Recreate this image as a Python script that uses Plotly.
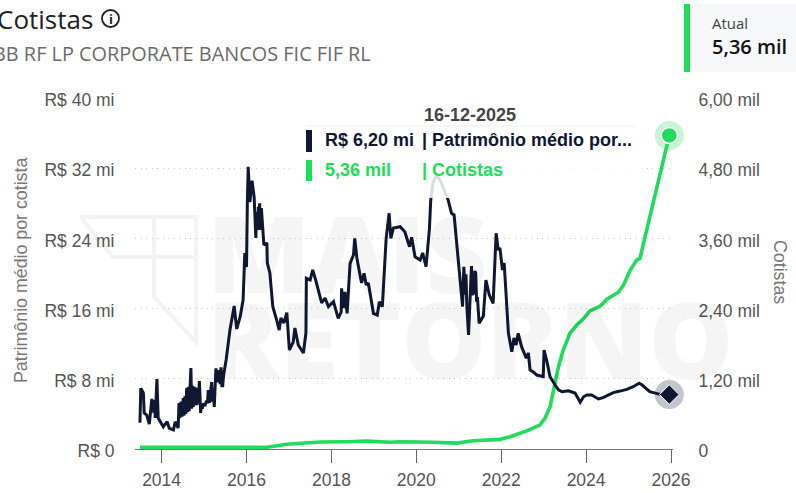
import plotly.graph_objects as go

# ---- data ----
patrimonio_anos = [2013.49,2013.51,2013.57,2013.59,2013.65,2013.71,2013.77,2013.82,2013.84,2013.85,2013.89,2013.92,2014.04,2014.13,2014.18,2014.28,2014.32,2014.39,
2014.41,2014.43,2014.46,2014.48,2014.51,2014.53,2014.55,2014.57,2014.59,2014.61,2014.63,2014.65,2014.67,2014.69,2014.71,2014.73,2014.75,2014.77,2014.79,2014.81,2014.83,2014.85,2014.87,2014.89,2014.92,2014.94,2014.96,2014.98,2015.02,2015.06,2015.08,2015.10,2015.12,2015.14,2015.16,2015.18,2015.20,2015.22,2015.24,2015.26,2015.28,2015.30,2015.32,2015.34,2015.36,2015.38,2015.40,2015.42,2015.44,2015.46,
2015.52,2015.61,2015.71,2015.74,2015.77,2015.85,2015.92,2015.96,2016.00,2016.02,2016.04,2016.08,2016.13,2016.18,2016.22,2016.24,2016.26,2016.28,2016.30,2016.31,2016.33,2016.35,2016.38,2016.41,2016.48,2016.49,2016.55,2016.62,2016.71,2016.77,2016.81,2016.88,2016.95,2017.01,2017.10,2017.14,2017.22,2017.34,2017.40,2017.41,2017.50,2017.56,2017.64,2017.72,2017.77,2017.85,2017.93,2018.05,2018.16,2018.23,2018.24,2018.28,2018.32,2018.37,2018.44,2018.52,2018.55,2018.60,2018.67,2018.71,2018.77,2018.82,2018.87,2018.99,2019.08,2019.13,2019.20,2019.29,2019.36,2019.40,2019.46,2019.62,2019.73,2019.84,2019.89,2019.97,2020.09,2020.15,2020.23,2020.31,2020.34,2020.39,2020.48,2020.58,2020.75,2020.83,2020.89,2020.95,2021.01,2021.09,2021.12,2021.15,2021.17,2021.19,2021.23,2021.30,2021.32,2021.34,2021.36,2021.38,2021.40,2021.42,2021.44,2021.48,2021.58,2021.64,2021.72,2021.81,2021.88,2021.93,2021.97,2022.03,2022.07,2022.13,2022.17,2022.25,2022.30,2022.35,2022.40,2022.48,2022.59,2022.64,2022.68,2022.76,2022.84,2022.99,2023.01,2023.07,2023.15,2023.27,2023.35,2023.43,2023.58,2023.74,2023.86,2023.94,2024.02,2024.13,2024.29,2024.40,2024.49,2024.64,2024.80,2024.96,2025.11,2025.25,2025.32,2025.50,2025.74,2025.96]
patrimonio_mi = [3.0,6.92,6.38,4.10,3.87,2.85,5.70,4.10,5.58,3.53,7.98,3.53,2.54,3.11,2.39,2.17,3.11,2.39,
5.24,3.53,5.4,3.7,5.8,3.8,6.0,4.0,6.95,4.2,7.1,4.3,7.0,9.23,4.6,7.2,4.8,7.1,5.0,7.0,5.0,6.6,5.2,7.75,4.10,5.0,4.6,5.2,4.9,5.5,5.2,6.72,5.3,5.5,6.8,7.64,5.4,6.4,4.79,8.2,9.2,7.6,9.0,7.6,9.0,7.4,9.3,7.2,7.2,8.4,
10.14,13.56,16.30,14.9,13.68,15.04,16.98,22.34,20.74,28.03,32.17,28.15,30.58,28.72,24.05,27.0,25.0,27.61,24.96,28.0,25.0,27.46,25.0,23.25,23.48,21.20,20.06,16.22,14.70,13.56,14.93,14.36,15.53,11.28,12.19,13.79,11.85,10.94,13.22,19.45,19.26,20.40,19.07,17.55,16.64,17.21,16.22,16.79,14.89,15.61,18.31,16.07,17.89,15.46,21.16,22.11,24.01,21.77,19.83,18.92,20.02,18.69,18.92,15.46,15.27,16.79,16.22,24.01,26.86,24.01,25.19,25.33,24.76,23.05,24.13,21.91,21.54,22.34,20.77,25.15,28.38,30.31,31.23,30.43,28.38,26.86,26.67,23.48,20.40,16.22,20.77,17.6,19.9,16.4,12.99,20.85,17.5,20.0,17.6,20.3,20.02,16.8,17.32,14.32,15.16,19.26,17.55,16.60,24.58,22.68,22.91,20.40,21.20,16.64,13.19,11.09,12.65,11.85,13.19,11.66,10.34,10.94,9.00,8.77,8.43,8.24,11.28,10.14,8.24,7.29,6.75,6.53,6.64,6.38,5.32,5.95,6.15,6.15,5.70,5.85,6.04,6.42,6.60,6.80,7.10,7.49,7.29,6.53,6.23,6.20]

cotistas_anos = [2013.49,2016.48,2016.95,2017.73,2018.36,2018.83,2019.38,2019.62,2020.39,2020.95,2021.34,2021.97,2022.21,2022.60,2022.91,2023.03,2023.15,2023.24,2023.35,2023.46,2023.62,2023.78,2023.93,2024.09,2024.33,2024.49,2024.76,2024.88,2025.04,2025.19,2025.27,2025.39,2025.55,2025.70,2025.84,2025.96]
cotistas_mil = [0.03,0.03,0.08,0.12,0.125,0.135,0.115,0.125,0.115,0.10,0.14,0.165,0.21,0.31,0.41,0.525,0.72,1.01,1.41,1.69,1.98,2.12,2.22,2.36,2.44,2.56,2.68,2.80,3.06,3.23,3.26,3.63,4.11,4.60,4.97,5.36]

anos_ticks = [2014,2016,2018,2020,2022,2024,2026]
esq_vals = [0,8,16,24,32,40]
esq_txt = ["R$ 0","R$ 8 mi","R$ 16 mi","R$ 24 mi","R$ 32 mi","R$ 40 mi"]
dir_vals = [0,1.2,2.4,3.6,4.8,6.0]
dir_txt = ["0","1,20 mil","2,40 mil","3,60 mil","4,80 mil","6,00 mil"]

# ---- layout frame ----
W, H = 796, 493
L, R, T, B = 135, 673, 98, 449
X0 = 2014 - (161.6 - L) / 42.45
X1 = 2014 + (R - 161.6) / 42.45
px = lambda p: (p - L) / (R - L)
py = lambda p: (B - p) / (B - T)

AZUL = "#0f1733"
VERDE = "#1fdc5a"
ARIAL = "Liberation Sans"
OPEN = "Open Sans"

fig = go.Figure()
fig.add_trace(go.Scatter(x=cotistas_anos, y=cotistas_mil, yaxis="y2", mode="lines",
                         line=dict(color=VERDE, width=3.6), hoverinfo="skip"))
fig.add_trace(go.Scatter(x=cotistas_anos[-1:], y=cotistas_mil[-1:], yaxis="y2", mode="markers", cliponaxis=False,
                         marker=dict(color=VERDE, size=29, opacity=0.25), hoverinfo="skip"))
fig.add_trace(go.Scatter(x=cotistas_anos[-1:], y=cotistas_mil[-1:], yaxis="y2", mode="markers", cliponaxis=False,
                         marker=dict(color=VERDE, size=16, line=dict(color="white", width=1.5)), hoverinfo="skip"))
fig.add_trace(go.Scatter(x=patrimonio_anos, y=patrimonio_mi, yaxis="y", mode="lines",
                         line=dict(color=AZUL, width=3), hoverinfo="skip"))
fig.add_trace(go.Scatter(x=patrimonio_anos[-1:], y=patrimonio_mi[-1:], yaxis="y", mode="markers", cliponaxis=False,
                         marker=dict(color=AZUL, size=29, opacity=0.25), hoverinfo="skip"))
fig.add_trace(go.Scatter(x=patrimonio_anos[-1:], y=patrimonio_mi[-1:], yaxis="y", mode="markers", cliponaxis=False,
                         marker=dict(color=AZUL, size=15, symbol="diamond", line=dict(color="white", width=1)), hoverinfo="skip"))

shapes = []
def rect(x0, y0, x1, y1, color, layer="above"):
    shapes.append(dict(type="rect", xref="paper", yref="paper", x0=px(x0), x1=px(x1),
                       y0=py(y0), y1=py(y1), fillcolor=color, line=dict(width=0), layer=layer))

def path(points):
    return "M " + " L ".join(f"{px(a):.5f},{py(b):.5f}" for a, b in points)

# watermark logo
for pts in ([(80,217),(196,217),(196,342),(154,297),(154,217)], [(82,219),(113,257),(196,257)]):
    shapes.append(dict(type="path", xref="paper", yref="paper", path=path(pts),
                       line=dict(color="#f3f3f3", width=4), layer="below"))

# tooltip veil, separator and colour bars
rect(290, 92, 647, 198, "rgba(255,255,255,0.85)")
rect(306, 125.5, 635, 126.5, "#eeeeee")
rect(306, 130, 312, 152, AZUL)
rect(306, 160, 312, 181, VERDE)

# "Atual" panel
rect(684, 4, 796, 72, "#f7f8fa")
rect(684, 4, 690, 72, VERDE)

# info icon
shapes.append(dict(type="circle", xref="paper", yref="paper", x0=px(102), x1=px(119), y0=py(10), y1=py(27),
                   line=dict(color="#222222", width=1.8), fillcolor="rgba(0,0,0,0)"))

ann = []
def text(t, x, y, size, color, font=ARIAL, anchor="left", angle=0, weight=None):
    f = dict(family=font, size=size, color=color)
    if weight:
        f["weight"] = weight
    ann.append(dict(text=t, xref="paper", yref="paper", x=px(x), y=py(y), xanchor=anchor, yanchor="middle",
                    showarrow=False, font=f, textangle=angle))

# watermark text
text("MAIS", 205, 252, 107, "rgba(0,0,0,0.04)", font=OPEN, weight=800)
text("RETORNO", 205, 337, 107, "rgba(0,0,0,0.04)", font=OPEN, weight=800)

# header
text("Cotistas", -5, 19, 26, "#222222", font=OPEN)
text("i", 110.5, 19, 13, "#222222", font=OPEN, anchor="center", weight=700)
text("BB RF LP CORPORATE BANCOS FIC FIF RL", -9, 53, 19.9, "#6b6b6b", font=OPEN)
text("Atual", 710, 23, 15, "#444444", font=OPEN)
text("5,36 mil", 710, 46, 20, "#111111", font=OPEN, weight=600)

# tooltip text
text("16-12-2025", 470, 115, 18, "#444444", anchor="center", weight=700)
text("R$ 6,20 mi", 323, 140, 18, AZUL, weight=700)
text("| Patrimônio médio por...", 420, 140, 18, AZUL, weight=700)
text("5,36 mil", 323, 170, 18, VERDE, weight=700)
text("| Cotistas", 420, 170, 18, VERDE, weight=700)

# axis titles
text("Patrimônio médio por cotista", 21, 271, 17.8, "#777777", anchor="center", angle=-90)
text("Cotistas", 780, 272, 17.8, "#777777", anchor="center", angle=90)

fig.update_layout(
    width=W, height=H, margin=dict(l=L, r=W-R, t=T, b=H-B, pad=0, autoexpand=False),
    paper_bgcolor="white", plot_bgcolor="rgba(0,0,0,0)", showlegend=False,
    shapes=shapes, annotations=ann,
    xaxis=dict(range=[X0, X1], tickmode="array", tickvals=anos_ticks, ticktext=[str(a) for a in anos_ticks],
               showgrid=False, zeroline=False, showline=True, linecolor="#777777", linewidth=1,
               ticks="outside", ticklen=13, tickwidth=1.2, tickcolor="#666666", ticklabelstandoff=2,
               tickfont=dict(family=ARIAL, size=17.5, color="#555555")),
    yaxis=dict(range=[0, 40], side="left", overlaying="y2", tickmode="array", tickvals=esq_vals, ticktext=esq_txt,
               showgrid=True, gridcolor="#c8c8c8", gridwidth=1, griddash="1px,4.5px", zeroline=False,
               ticks="outside", ticklen=16, tickcolor="rgba(0,0,0,0)", ticklabelshift=2,
               tickfont=dict(family=ARIAL, size=17.5, color="#555555")),
    yaxis2=dict(range=[0, 6], side="right", tickmode="array", tickvals=dir_vals, ticktext=dir_txt,
                showgrid=False, zeroline=False,
                ticks="outside", ticklen=21, tickcolor="rgba(0,0,0,0)", ticklabelshift=2,
                tickfont=dict(family=ARIAL, size=17.5, color="#555555")),
)

fig.write_html("out.html", config=dict(displayModeBar=False),
               post_script="document.body.style.margin='0';document.body.style.overflow='hidden';")
